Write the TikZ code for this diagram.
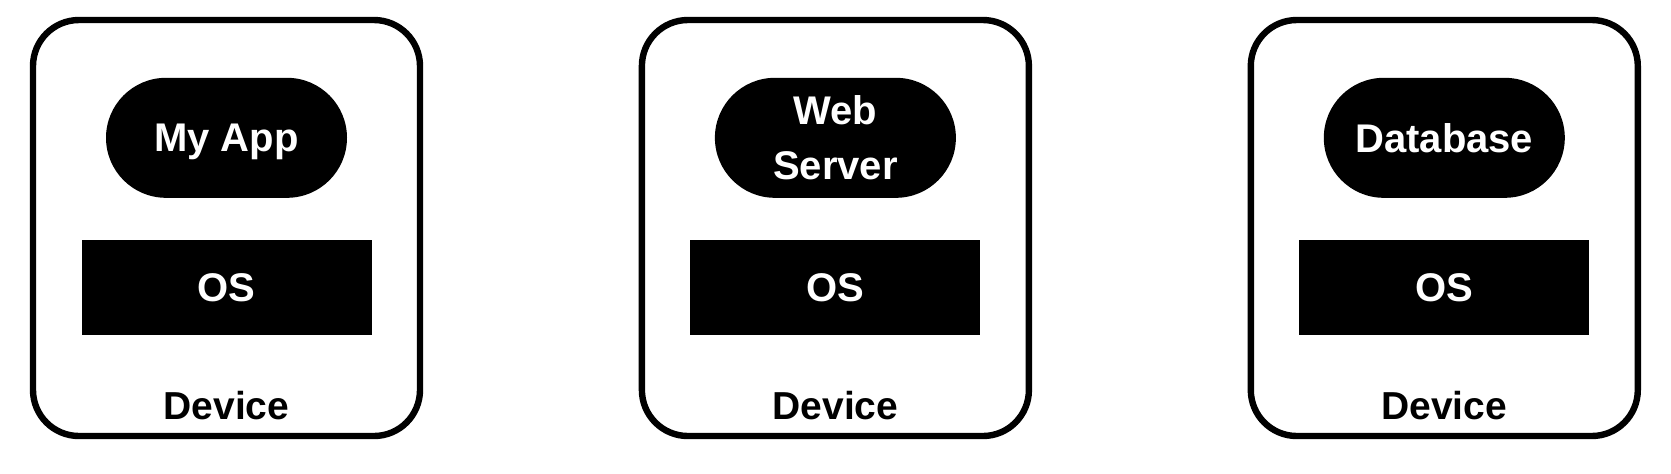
\documentclass[tikz,border=0pt]{standalone}
\usepackage{fontspec}
\setmainfont{Liberation Sans}
\usetikzlibrary{positioning}

\begin{document}
\begin{tikzpicture}[
    x=0.5pt, y=-0.5pt,
    node distance=107.75pt,
    device/.style={rectangle, draw, line width=3.2pt, rounded corners=23pt, minimum width=193.5pt, minimum height=208pt},
    app/.style={rectangle, fill=black, draw=none, outer sep=0pt, rounded corners=30pt, minimum width=120.5pt, minimum height=60pt, text depth=0pt, text=white, align=center, font=\fontsize{20}{27.5}\selectfont\bfseries},
    os/.style={rectangle, fill=black, draw=none, outer sep=0pt, minimum width=145pt, minimum height=47.5pt, text=white, font=\fontsize{20}{22}\selectfont\bfseries},
    devlabel/.style={anchor=base, inner sep=0pt, font=\fontsize{19.5}{22}\selectfont\bfseries}
]
    \useasboundingbox (0,0) rectangle (1671,473);

    \node (dev1) [device] at (226.5,228) {};
    \node (dev2) [device, right=of dev1] {};
    \node (dev3) [device, right=of dev2] {};

    \node (app1) [app, below=30.5pt of dev1.north] {My App};
    \node (app2) [app, below=30.5pt of dev2.north] {Web\\Server};
    \node (app3) [app, below=30.5pt of dev3.north] {Database};

    \node (os1) [os, below=21pt of app1] {OS};
    \node (os2) [os, below=21pt of app2] {OS};
    \node (os3) [os, below=21pt of app3] {OS};

    \node (lbl1) [devlabel] at ([yshift=10pt]dev1.south) {Device};
    \node (lbl2) [devlabel] at ([yshift=10pt]dev2.south) {Device};
    \node (lbl3) [devlabel] at ([yshift=10pt]dev3.south) {Device};

\end{tikzpicture}
\end{document}
